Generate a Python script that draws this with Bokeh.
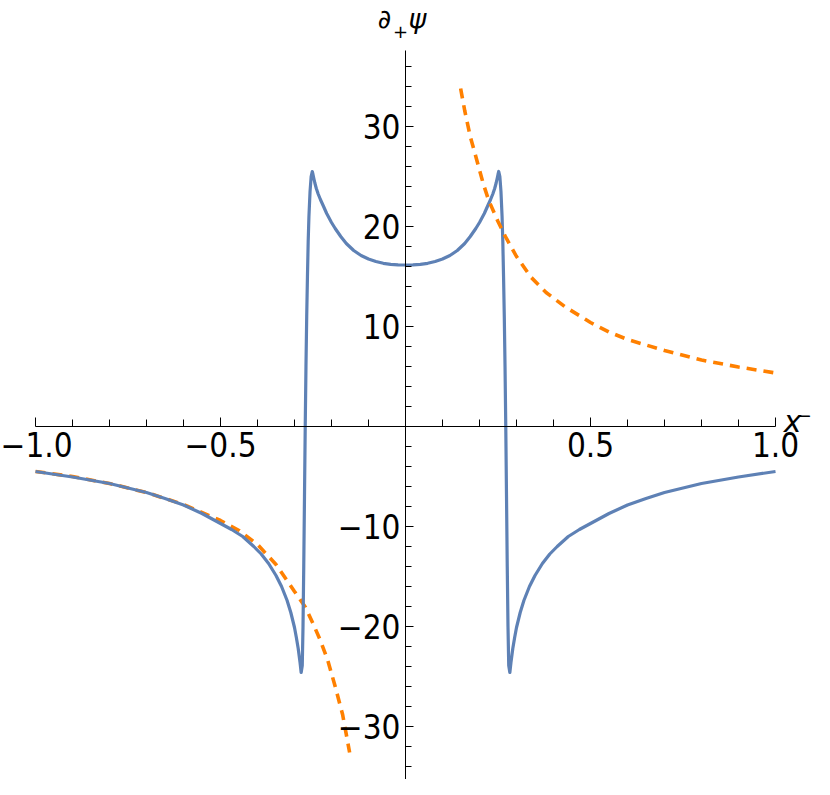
from bokeh.plotting import figure
from bokeh.models import LinearAxis, FixedTicker, Range1d, Label
from bokeh.embed import file_html
from bokeh.resources import INLINE

# ---- data ----
blue_x = [-1.0, -0.9, -0.8, -0.7, -0.65, -0.6, -0.55, -0.5, -0.47, -0.44, -0.41, -0.39,
          -0.37, -0.35, -0.335, -0.32, -0.31, -0.3, -0.295, -0.29, -0.285, -0.282,
          -0.279, -0.277, -0.275, -0.273, -0.271, -0.269, -0.267, -0.265, -0.263, -0.261,
          -0.258, -0.255, -0.252, -0.25, -0.248, -0.245, -0.241, -0.236, -0.23, -0.222,
          -0.213, -0.2, -0.19, -0.175, -0.16, -0.14, -0.12, -0.1, -0.08, -0.06, -0.04,
          -0.02, 0.0,
          0.02, 0.04, 0.06, 0.08, 0.1, 0.12, 0.14, 0.16, 0.175, 0.19, 0.2,
          0.213, 0.222, 0.23, 0.236, 0.241, 0.245, 0.248, 0.25, 0.252, 0.255, 0.258,
          0.261, 0.263, 0.265, 0.267, 0.269, 0.271, 0.273, 0.275, 0.277, 0.279,
          0.282, 0.285, 0.29, 0.295, 0.3, 0.31, 0.32, 0.335, 0.35, 0.37,
          0.39, 0.41, 0.44, 0.47, 0.5, 0.55, 0.6, 0.65, 0.7, 0.8, 0.9, 1.0]
blue_y = [-4.5, -5.05, -5.7, -6.6, -7.2, -7.85, -8.7, -9.7, -10.3, -11.0, -12.0, -12.75,
          -13.7, -14.9, -16.0, -17.4, -18.6, -20.1, -21.1, -22.2, -23.6, -24.6,
          -23.9, -20.0, -14.0, -7.0, 0.0, 6.0, 11.0, 15.0, 18.5, 21.0,
          23.5, 25.0, 25.5, 25.2, 24.85, 24.35, 23.8, 23.25, 22.7, 22.05,
          21.3, 20.4, 19.8, 19.0, 18.3, 17.6, 17.1, 16.75, 16.5, 16.32, 16.22,
          16.17, 16.15,
          16.17, 16.22, 16.32, 16.5, 16.75, 17.1, 17.6, 18.3, 19.0, 19.8, 20.4,
          21.3, 22.05, 22.7, 23.25, 23.8, 24.35, 24.85, 25.2, 25.5, 25.0, 23.5,
          21.0, 18.5, 15.0, 11.0, 6.0, 0.0, -7.0, -14.0, -20.0, -23.9,
          -24.6, -23.6, -22.2, -21.1, -20.1, -18.6, -17.4, -16.0, -14.9, -13.7,
          -12.75, -12.0, -11.0, -10.3, -9.7, -8.7, -7.85, -7.2, -6.6, -5.7, -5.05, -4.5]

orange_left_x = [-1.0, -0.9, -0.8, -0.7, -0.6, -0.5, -0.45, -0.4, -0.35, -0.3, -0.27,
                 -0.25, -0.23, -0.21, -0.19, -0.17, -0.151]
orange_left_y = [-4.5, -5.0, -5.7, -6.6, -7.8, -9.4, -10.4, -11.8, -13.8, -16.5, -18.1,
                 -19.7, -21.4, -23.4, -26.0, -28.8, -32.6]

orange_right_x = [0.149, 0.16, 0.175, 0.19, 0.21, 0.225, 0.25, 0.27, 0.3, 0.34, 0.38,
                  0.43, 0.5, 0.55, 0.6, 0.7, 0.8, 0.9, 1.0]
orange_right_y = [33.8, 31.6, 29.0, 27.0, 24.3, 22.6, 20.5, 19.0, 17.0, 14.9, 13.4,
                  12.0, 10.4, 9.45, 8.7, 7.6, 6.65, 5.95, 5.35]

x_ticks = [-1.0, -0.5, 0.5, 1.0]
x_tick_labels = ["\u22121.0", "\u22120.5", "0.5", "1.0"]
x_minor = [-0.9, -0.8, -0.7, -0.6, -0.4, -0.3, -0.2, -0.1, 0.1, 0.2, 0.3, 0.4,
           0.6, 0.7, 0.8, 0.9]
y_ticks = [-30, -20, -10, 10, 20, 30]
y_tick_labels = ["\u221230", "\u221220", "\u221210", "10", "20", "30"]
y_minor = [-36, -34, -32, -28, -26, -24, -22, -18, -16, -14, -12, -8, -6, -4, -2,
           2, 4, 6, 8, 12, 14, 16, 18, 22, 24, 26, 28, 32, 34, 36]

BLUE = "#5E81B5"
ORANGE = "#FF8000"
FONT = "DejaVu Sans Condensed"

p = figure(width=814, height=779, output_backend="svg", toolbar_location=None,
           x_axis_type=None, y_axis_type=None,
           x_range=Range1d(-1.0946, 1.1054), y_range=Range1d(-35.3, 42.6),
           min_border=0, outline_line_color=None)

def style_axis(ax, labels_map, tick_in, minor_in):
    ax.major_label_overrides = labels_map
    ax.major_tick_in = tick_in
    ax.major_tick_out = 0
    ax.minor_tick_in = minor_in
    ax.minor_tick_out = 0
    ax.major_label_standoff = 5
    ax.major_label_text_font = FONT
    ax.major_label_text_font_size = "33px"
    ax.major_label_text_color = "black"
    ax.axis_line_color = "black"
    ax.major_tick_line_color = "black"
    ax.minor_tick_line_color = "black"
    ax.axis_line_width = 1

xaxis = LinearAxis(fixed_location=0, ticker=FixedTicker(ticks=x_ticks, minor_ticks=x_minor),
                   bounds=(-1.0, 1.0))
style_axis(xaxis, {t: s for t, s in zip(x_ticks, x_tick_labels)}, 9, 7)
p.add_layout(xaxis, "below")

yaxis = LinearAxis(fixed_location=0, ticker=FixedTicker(ticks=y_ticks, minor_ticks=y_minor),
                   bounds=(-36.8, 37.6))
style_axis(yaxis, {t: s for t, s in zip(y_ticks, y_tick_labels)}, 8, 6)
p.add_layout(yaxis, "left")

p.line(orange_left_x, orange_left_y, line_color=ORANGE, line_width=3.6, line_dash="10 7")
p.line(blue_x, blue_y, line_color=BLUE, line_width=3.2, line_join="round")
p.line(orange_right_x, orange_right_y, line_color=ORANGE, line_width=3.6, line_dash="10 7")

# axis titles
p.add_layout(Label(x=-0.075, y=39.3, text="\u2202", text_font="DejaVu Sans",
                   text_font_style="italic", text_font_size="26px", text_color="black"))
p.add_layout(Label(x=-0.0135, y=38.9, text="+", text_font="DejaVu Sans",
                   text_font_size="18px", text_align="center", text_color="black"))
p.add_layout(Label(x=0.008, y=39.3, text="\u03c8", text_font="DejaVu Sans",
                   text_font_style="italic", text_font_size="27px", text_color="black"))
p.add_layout(Label(x=1.022, y=-1.2, text="x", text_font="DejaVu Sans",
                   text_font_style="italic", text_font_size="30px", text_color="black"))
p.add_layout(Label(x=1.078, y=0.5, text="\u2212", text_font="DejaVu Sans",
                   text_font_size="18px", text_align="center", text_color="black"))

open("out.html", "w").write(file_html(p, INLINE))
